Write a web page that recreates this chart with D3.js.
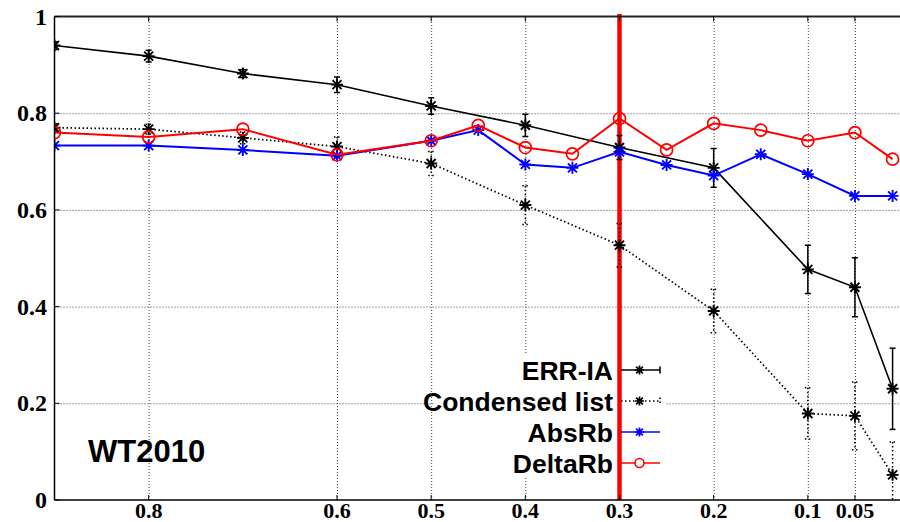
<!DOCTYPE html>
<html>
<head>
<meta charset="utf-8">
<script src="https://cdn.jsdelivr.net/npm/d3@7"></script>
<style>
  body { margin: 0; background: #fff; }
  svg { display: block; }
</style>
</head>
<body>
<svg id="chart" width="900" height="522"></svg>
<script>
// Data
let xAll = [0.9, 0.8, 0.7, 0.6, 0.5, 0.45, 0.4, 0.35, 0.3, 0.25, 0.2, 0.15, 0.1, 0.05, 0.01];
let xErr = [0.9, 0.8, 0.7, 0.6, 0.5, 0.4, 0.3, 0.2, 0.1, 0.05, 0.01];

let errIA = [0.940, 0.918, 0.882, 0.859, 0.815, 0.775, 0.729, 0.687, 0.477, 0.440, 0.230];
let errIADev = [0.008, 0.012, 0.008, 0.016, 0.017, 0.023, 0.025, 0.040, 0.050, 0.061, 0.084];
let condensed = [0.770, 0.767, 0.749, 0.731, 0.696, 0.610, 0.527, 0.391, 0.179, 0.174, 0.052];
let condensedDev = [0.008, 0.010, 0.012, 0.020, 0.025, 0.040, 0.045, 0.045, 0.053, 0.070, 0.068];
let absRb = [0.733, 0.733, 0.724, 0.712, 0.743, 0.765, 0.694, 0.687, 0.720, 0.693, 0.671, 0.715, 0.674, 0.629, 0.629];
let deltaRb = [0.760, 0.751, 0.767, 0.714, 0.743, 0.775, 0.729, 0.716, 0.789, 0.724, 0.779, 0.765, 0.743, 0.760, 0.705];

let xTicks = [0.8, 0.6, 0.5, 0.4, 0.3, 0.2, 0.1, 0.05];
let yTicks = [0, 0.2, 0.4, 0.6, 0.8, 1];
let cutoff = 0.3;
let legendNames = ["ERR-IA", "Condensed list", "AbsRb", "DeltaRb"];
let title = "WT2010";

// Layout
let svg = d3.select("svg#chart");
let plotLeft = 54.5, plotRight = 902, plotTop = 16.5, plotBottom = 500;

let xScale = d3.scaleLinear().domain([0.9, 0]).range([plotLeft, plotRight]);
let yScale = d3.scaleLinear().domain([0, 1]).range([plotBottom, plotTop]);

svg.append("clipPath").attr("id", "plotclip")
  .append("rect")
  .attr("x", plotLeft).attr("y", plotTop)
  .attr("width", plotRight - plotLeft).attr("height", plotBottom - plotTop);

// Gridlines
let gridX = d3.axisBottom(xScale).tickValues(xTicks).tickSize(-(plotBottom - plotTop)).tickFormat("");
let gridY = d3.axisLeft(yScale).tickValues(yTicks.slice(1, -1)).tickSize(-(plotRight - plotLeft)).tickFormat("");

svg.append("g")
  .attr("transform", "translate(0," + plotBottom + ")")
  .call(gridX)
  .call(g => g.select(".domain").remove())
  .selectAll("line")
  .attr("stroke", "#444")
  .attr("stroke-width", 1)
  .attr("stroke-dasharray", "1,2");

svg.append("g")
  .attr("transform", "translate(" + plotLeft + ",0)")
  .call(gridY)
  .call(g => g.select(".domain").remove())
  .selectAll("line")
  .attr("stroke", "#444")
  .attr("stroke-width", 1)
  .attr("stroke-dasharray", "1,2");

// opaque key box
svg.append("rect")
  .attr("x", 434).attr("y", 353)
  .attr("width", 232).attr("height", 125)
  .attr("fill", "#fff");

// Cutoff line
svg.append("line")
  .attr("x1", xScale(cutoff)).attr("x2", xScale(cutoff))
  .attr("y1", plotTop - 2.5).attr("y2", plotBottom)
  .attr("stroke", "#ff0000")
  .attr("stroke-width", 4.5);

// Marker shapes
function starPath(s) {
  let d = s * 0.75;
  return "M" + (-s) + ",0H" + s + "M0," + (-s) + "V" + s +
    "M" + (-d) + "," + (-d) + "L" + d + "," + d +
    "M" + (-d) + "," + d + "L" + d + "," + (-d);
}

let plot = svg.append("g").attr("clip-path", "url(#plotclip)");

let line = d3.line().x(d => xScale(d[0])).y(d => yScale(d[1]));

function drawSeries(xs, ys, devs, color, width, dash, marker) {
  let pts = xs.map((x, i) => [x, ys[i]]);
  plot.append("path")
    .datum(pts)
    .attr("d", line)
    .attr("fill", "none")
    .attr("stroke", color)
    .attr("stroke-width", width)
    .attr("stroke-dasharray", dash);

  if (devs) {
    pts.forEach((p, i) => {
      let cx = xScale(p[0]);
      let y1 = yScale(p[1] + devs[i]);
      let y2 = yScale(p[1] - devs[i]);
      let eb = plot.append("g")
        .attr("stroke", color)
        .attr("stroke-width", 1.5)
        .attr("stroke-dasharray", dash);
      eb.append("line").attr("x1", cx).attr("x2", cx).attr("y1", y1).attr("y2", y2);
      eb.append("line").attr("x1", cx - 3).attr("x2", cx + 3).attr("y1", y1).attr("y2", y1);
      eb.append("line").attr("x1", cx - 3).attr("x2", cx + 3).attr("y1", y2).attr("y2", y2);
    });
  }

  pts.forEach(p => {
    if (marker === "star") {
      plot.append("path")
        .attr("d", starPath(6))
        .attr("transform", "translate(" + xScale(p[0]) + "," + yScale(p[1]) + ")")
        .attr("fill", "none")
        .attr("stroke", color)
        .attr("stroke-width", 1.9);
    } else {
      plot.append("circle")
        .attr("cx", xScale(p[0]))
        .attr("cy", yScale(p[1]))
        .attr("r", 6)
        .attr("fill", "none")
        .attr("stroke", color)
        .attr("stroke-width", 1.7);
    }
  });
}

drawSeries(xErr, condensed, condensedDev, "#000", 1.7, "1.5,2.5", "star");
drawSeries(xErr, errIA, errIADev, "#000", 1.6, null, "star");
drawSeries(xAll, absRb, null, "#0000ff", 2, null, "star");
drawSeries(xAll, deltaRb, null, "#ff0000", 2, null, "circle");

// Border and axes
svg.append("line")
  .attr("x1", plotLeft).attr("x2", 900).attr("y1", plotTop).attr("y2", plotTop)
  .attr("stroke", "#222").attr("stroke-width", 2);
svg.append("line")
  .attr("x1", plotLeft).attr("x2", plotLeft).attr("y1", plotTop).attr("y2", plotBottom)
  .attr("stroke", "#000").attr("stroke-width", 1.5);
svg.append("line")
  .attr("x1", plotLeft).attr("x2", 900).attr("y1", plotBottom).attr("y2", plotBottom)
  .attr("stroke", "#000").attr("stroke-width", 1.5);

// small inward ticks
xTicks.forEach(t => {
  svg.append("line").attr("x1", xScale(t)).attr("x2", xScale(t))
    .attr("y1", plotBottom).attr("y2", plotBottom - 5).attr("stroke", "#000").attr("stroke-width", 1);
  svg.append("line").attr("x1", xScale(t)).attr("x2", xScale(t))
    .attr("y1", plotTop).attr("y2", plotTop + 5).attr("stroke", "#000").attr("stroke-width", 1);
});
yTicks.forEach(t => {
  svg.append("line").attr("x1", plotLeft).attr("x2", plotLeft + 5)
    .attr("y1", yScale(t)).attr("y2", yScale(t)).attr("stroke", "#000").attr("stroke-width", 1);
});

// Tick labels
let tickFont = "'Liberation Serif', 'Times New Roman', serif";
svg.append("g").selectAll("text")
  .data(xTicks)
  .join("text")
  .attr("x", d => xScale(d))
  .attr("y", 518)
  .attr("text-anchor", "middle")
  .attr("font-family", tickFont)
  .attr("font-weight", "bold")
  .attr("font-size", "22px")
  .text(d => d);

svg.append("g").selectAll("text")
  .data(yTicks)
  .join("text")
  .attr("x", 47)
  .attr("y", d => yScale(d) + 8)
  .attr("text-anchor", "end")
  .attr("font-family", tickFont)
  .attr("font-weight", "bold")
  .attr("font-size", "24px")
  .text(d => d);

// Legend
let sansFont = "'Liberation Sans', Arial, sans-serif";
let legendColors = ["#000", "#000", "#0000ff", "#ff0000"];
let legendDash = [null, "1.5,2.5", null, null];
let legendMarker = ["star", "star", "star", "circle"];
let legendErr = [true, true, false, false];

legendNames.forEach((name, i) => {
  let ry = 370 + i * 31;
  svg.append("text")
    .attr("x", 613)
    .attr("y", ry + 9.5)
    .attr("text-anchor", "end")
    .attr("font-family", sansFont)
    .attr("font-weight", "bold")
    .attr("font-size", "26.5px")
    .attr("fill", "#000")
    .text(name);

  svg.append("line")
    .attr("x1", 621).attr("x2", 660).attr("y1", ry).attr("y2", ry)
    .attr("stroke", legendColors[i])
    .attr("stroke-width", 1.6)
    .attr("stroke-dasharray", legendDash[i]);

  if (legendErr[i]) {
    svg.append("line")
      .attr("x1", 660).attr("x2", 660).attr("y1", ry - 3.5).attr("y2", ry + 3.5)
      .attr("stroke", legendColors[i])
      .attr("stroke-width", 1.6)
      .attr("stroke-dasharray", legendDash[i]);
  }

  if (legendMarker[i] === "star") {
    svg.append("path")
      .attr("d", starPath(4.5))
      .attr("transform", "translate(639.5," + ry + ")")
      .attr("fill", "none")
      .attr("stroke", legendColors[i])
      .attr("stroke-width", 1.7);
  } else {
    svg.append("circle")
      .attr("cx", 639.5).attr("cy", ry).attr("r", 4.5)
      .attr("fill", "#fff")
      .attr("stroke", legendColors[i])
      .attr("stroke-width", 1.6);
  }
});

// Dataset label
svg.append("text")
  .attr("x", 88)
  .attr("y", 462)
  .attr("font-family", sansFont)
  .attr("font-weight", "bold")
  .attr("font-size", "31px")
  .attr("fill", "#000")
  .text(title);
</script>
</body>
</html>
